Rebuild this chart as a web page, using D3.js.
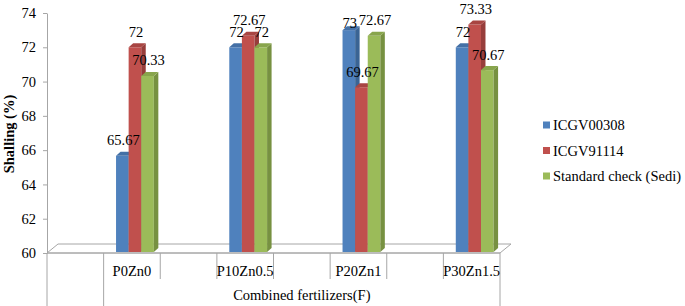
<!DOCTYPE html>
<html>
<head>
<meta charset="utf-8">
<script src="https://cdn.jsdelivr.net/npm/d3@7"></script>
<style>
  html, body { margin: 0; padding: 0; background: #fff; }
  svg { display: block; }
  svg text { font-family: "Liberation Serif", "DejaVu Serif", serif !important; fill: #000; }
</style>
</head>
<body>
<svg id="chart" width="685" height="306" font-family="Liberation Serif, serif"></svg>
<script>
// ---- data ----
const categories = ["P0Zn0", "P10Zn0.5", "P20Zn1", "P30Zn1.5"];
const seriesNames = ["ICGV00308", "ICGV91114", "Standard check (Sedi)"];
const icgv00308 = [65.67, 72, 73, 72];
const icgv91114 = [72, 72.67, 69.67, 73.33];
const sedi = [70.33, 72, 72.67, 70.67];
const yTicks = [60, 62, 64, 66, 68, 70, 72, 74];
const xTitle = "Combined fertilizers(F)";
const yTitle = "Shalling (%)";

(function () {
const seriesValues = [icgv00308, icgv91114, sedi];
const colors = ["#4F81BD", "#C0504D", "#9BBB59"];
const sideColors = ["#3A6494", "#973D3B", "#779141"];
const topColors = ["#4470A6", "#A84542", "#88A54C"];
const FONT = "Liberation Serif";

const svg = d3.select("#chart");
const pLeft = 47, pRight = 500, pTop = 13, pBottom = 253;
const depthX = 11, depthY = 9;     // floor depth
const barDX = 4.5, barDY = 4;      // bar side depth
const grey = "#A6A6A6";

const slotKeys = categories.flatMap((c, i) => ["_blank" + i, c]);
const x = d3.scaleBand().domain(slotKeys).range([pLeft, pRight]).padding(0);
const y = d3.scaleLinear().domain([60, 74]).range([pBottom, pTop]);

function txt(sel) {
  return sel.attr("font-family", FONT).style("font-family", FONT).style("font-size", "14.5px").attr("fill", "#000");
}

// floor
svg.append("path")
  .attr("d", `M${pLeft},${pBottom} L${pLeft + depthX},${pBottom - depthY} L${pRight + depthX},${pBottom - depthY} L${pRight},${pBottom} Z`)
  .attr("fill", "none").attr("stroke", grey).attr("stroke-width", 1);

// y axis
const yAxis = d3.axisLeft(y).tickValues(yTicks).tickSize(4).tickSizeOuter(0).tickPadding(7)
  .tickFormat(d3.format("d"));
const gy = svg.append("g").attr("transform", `translate(${pLeft},0)`).call(yAxis);
gy.attr("font-family", FONT).attr("font-size", 14.5);
gy.select(".domain").attr("stroke", grey);
gy.selectAll(".tick line").attr("stroke", grey);
txt(gy.selectAll(".tick text"));

// category axis lines
const xg = svg.append("g");
xg.append("line").attr("x1", pLeft).attr("x2", pRight).attr("y1", pBottom).attr("y2", pBottom).attr("stroke", grey);
slotKeys.forEach((k, i) => {
  const xx = x(k);
  const long = (i === 0 || i === 1);
  xg.append("line").attr("x1", xx).attr("x2", xx).attr("y1", pBottom).attr("y2", long ? 306 : 279).attr("stroke", grey);
});
xg.append("line").attr("x1", pRight).attr("x2", pRight).attr("y1", pBottom).attr("y2", 306).attr("stroke", grey);

categories.forEach(c => {
  txt(xg.append("text").attr("x", x(c) + x.bandwidth() / 2).attr("y", 276)
    .attr("text-anchor", "middle")).text(c);
});
txt(xg.append("text").attr("x", (x(categories[0]) + pRight) / 2).attr("y", 300)
  .attr("text-anchor", "middle")).text(xTitle);

// y title
txt(svg.append("text").attr("transform", `translate(14,${(pTop + pBottom) / 2 + 1}) rotate(-90)`)
  .attr("text-anchor", "middle")).style("font-weight", "bold").text(yTitle);

// bars
const bw = 12.6;
const barBase = pBottom - 1;
const labelNudge = { "0-2": 8 };
const barsG = svg.append("g");
const labelsG = svg.append("g");
categories.forEach((c, ci) => {
  const cx = x(c) + x.bandwidth() / 2 + 3;
  seriesValues.forEach((vals, si) => {
    const v = vals[ci];
    const x0 = cx - 1.5 * bw + si * bw;
    const x1 = x0 + bw;
    const yt = y(v);
    barsG.append("rect").attr("x", x0).attr("y", yt).attr("width", bw).attr("height", barBase - yt)
      .attr("fill", colors[si]);
    barsG.append("path")
      .attr("d", `M${x1},${yt} L${x1 + barDX},${yt - barDY} L${x1 + barDX},${barBase - barDY} L${x1},${barBase} Z`)
      .attr("fill", sideColors[si]);
    barsG.append("path")
      .attr("d", `M${x0},${yt} L${x0 + barDX},${yt - barDY} L${x1 + barDX},${yt - barDY} L${x1},${yt} Z`)
      .attr("fill", topColors[si]);
    const nudge = labelNudge[si + "-" + ci] || 0;
    txt(labelsG.append("text").attr("x", x0 + bw / 2 + 1).attr("y", yt - 10.5 + nudge)
      .attr("text-anchor", "middle")).text(String(v));
  });
});

// legend
const lg = svg.append("g");
seriesNames.forEach((n, i) => {
  const ly = 125 + i * 25.5;
  lg.append("rect").attr("x", 543).attr("y", ly - 3.5).attr("width", 7).attr("height", 7).attr("fill", colors[i]);
  txt(lg.append("text").attr("x", 553).attr("y", ly + 5)).text(n);
});
})();
</script>
</body>
</html>
